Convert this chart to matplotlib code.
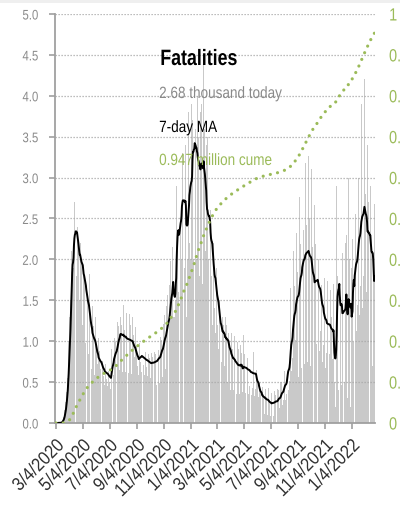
import numpy as np
import pandas as pd
import matplotlib
matplotlib.use("Agg")
import matplotlib.pyplot as plt
from matplotlib.patches import Rectangle
from matplotlib.patheffects import AbstractPathEffect
from matplotlib.transforms import Affine2D

plt.rcParams['font.family'] = ['Liberation Sans', 'DejaVu Sans']

# daily US fatalities (thousands), one row per week starting Wed 3/4/2020
daily_rows = [
    [0.0, 0.0, 0.0, 0.0, 0.0, 0.01, 0.0],
    [0.0, 0.0, 0.01, 0.0, 0.0, 0.01, 0.01],
    [0.03, 0.04, 0.06, 0.07, 0.08, 0.12, 0.16],
    [0.22, 0.26, 0.30, 0.38, 0.45, 0.55, 0.64],
    [0.9, 1.0, 1.15, 1.3, 1.4, 1.5, 1.85],
    [2.1, 2.3, 2.4, 2.0, 1.6, 1.9, 2.9],
    [2.7, 2.6, 2.5, 2.2, 1.6, 1.8, 2.9],
    [2.4, 2.3, 2.2, 1.8, 1.3, 1.5, 2.9],
    [2.2, 2.1, 2.0, 1.7, 1.2, 1.4, 2.5],
    [1.87, 1.96, 1.79, 1.47, 0.98, 1.22, 2.12],
    [1.61, 1.68, 1.54, 1.26, 0.84, 1.05, 1.82],
    [1.27, 1.32, 1.21, 0.99, 0.66, 0.83, 1.43],
    [1.14, 1.19, 1.09, 0.89, 0.59, 0.74, 1.29],
    [0.92, 0.96, 0.88, 0.72, 0.48, 0.6, 1.04],
    [0.84, 0.88, 0.8, 0.66, 0.44, 0.55, 0.95],
    [0.72, 0.76, 0.69, 0.57, 0.38, 0.47, 0.82],
    [0.69, 0.72, 0.66, 0.54, 0.36, 0.45, 0.78],
    [0.63, 0.66, 0.61, 0.5, 0.33, 0.41, 0.72],
    [0.9, 0.94, 0.86, 0.7, 0.47, 0.59, 1.01],
    [1.04, 1.08, 0.99, 0.81, 0.54, 0.68, 1.17],
    [1.24, 1.3, 1.19, 0.97, 0.65, 0.81, 1.4],
    [1.3, 1.25, 1.2, 0.95, 0.62, 0.8, 1.44],
    [1.2, 1.25, 1.14, 0.94, 0.62, 0.78, 1.35],
    [1.17, 1.22, 1.12, 0.92, 0.61, 0.77, 1.33],
    [1.15, 1.2, 1.1, 0.9, 0.6, 0.75, 1.3],
    [1.04, 1.08, 0.99, 0.81, 0.54, 0.68, 1.17],
    [0.9, 0.94, 0.86, 0.7, 0.47, 0.59, 1.01],
    [0.94, 0.98, 0.9, 0.74, 0.49, 0.62, 1.07],
    [0.91, 0.95, 0.87, 0.71, 0.47, 0.59, 1.03],
    [0.87, 0.91, 0.84, 0.68, 0.46, 0.57, 0.99],
    [0.84, 0.88, 0.8, 0.66, 0.44, 0.55, 0.95],
    [0.85, 0.89, 0.81, 0.67, 0.44, 0.56, 0.96],
    [0.87, 0.91, 0.84, 0.68, 0.46, 0.57, 0.99],
    [0.93, 0.97, 0.89, 0.73, 0.49, 0.61, 1.05],
    [1.07, 1.12, 1.02, 0.84, 0.56, 0.7, 1.21],
    [1.27, 1.32, 1.21, 0.99, 0.66, 0.83, 1.43],
    [1.5, 1.56, 1.43, 1.17, 0.78, 0.98, 1.69],
    [1.9, 1.98, 1.82, 1.49, 0.99, 1.24, 2.15],
    [2.4, 1.3, 1.5, 1.3, 0.9, 1.5, 3.0],
    [2.9, 2.9, 2.6, 2.1, 1.4, 1.6, 2.6],
    [3.0, 3.2, 2.9, 2.4, 1.6, 2.0, 3.45],
    [3.3, 3.4, 2.9, 2.4, 1.6, 1.9, 3.4],
    [3.4, 3.0, 1.3, 2.3, 1.6, 2.0, 3.9],
    [3.8, 3.7, 2.2, 2.6, 2.0, 2.2, 4.1],
    [3.9, 4.1, 3.7, 3.2, 2.0, 2.4, 4.15],
    [4.4, 4.0, 3.6, 3.0, 2.0, 2.1, 4.0],
    [4.0, 3.8, 3.5, 2.8, 1.8, 2.0, 3.8],
    [4.4, 3.9, 3.5, 2.6, 1.7, 1.9, 4.4],
    [3.9, 3.6, 3.2, 2.1, 1.3, 1.4, 3.4],
    [3.3, 3.5, 2.9, 2.0, 1.2, 1.4, 3.2],
    [3.0, 2.6, 2.4, 1.8, 1.1, 1.2, 2.6],
    [2.3, 2.2, 1.9, 1.4, 0.9, 1.1, 2.24],
    [1.9, 1.8, 1.6, 1.2, 0.7, 0.9, 1.84],
    [1.5, 1.4, 1.3, 0.9, 0.6, 0.75, 1.6],
    [1.3, 1.4, 1.2, 0.9, 0.5, 0.7, 1.35],
    [1.3, 1.3, 1.2, 0.8, 0.5, 0.65, 1.32],
    [1.1, 1.1, 1.0, 0.7, 0.4, 0.55, 1.1],
    [1.0, 1.0, 0.9, 0.6, 0.4, 0.5, 1.06],
    [0.95, 0.9, 0.85, 0.55, 0.35, 0.45, 0.99],
    [0.9, 0.9, 0.8, 0.55, 0.35, 0.45, 0.95],
    [1.0, 0.86, 0.79, 0.38, 0.24, 0.48, 1.07],
    [0.97, 0.84, 0.77, 0.37, 0.23, 0.47, 1.04],
    [0.93, 0.8, 0.74, 0.35, 0.22, 0.45, 0.99],
    [0.88, 0.76, 0.7, 0.34, 0.21, 0.43, 0.95],
    [0.87, 0.75, 0.69, 0.33, 0.21, 0.42, 0.93],
    [0.65, 0.56, 0.52, 0.25, 0.16, 0.32, 0.7],
    [0.49, 0.43, 0.39, 0.19, 0.12, 0.24, 0.53],
    [0.44, 0.38, 0.35, 0.17, 0.11, 0.21, 0.46],
    [0.41, 0.35, 0.32, 0.15, 0.1, 0.2, 0.43],
    [0.35, 0.3, 0.28, 0.13, 0.08, 0.17, 0.37],
    [0.36, 0.31, 0.29, 0.14, 0.09, 0.18, 0.39],
    [0.39, 0.34, 0.31, 0.15, 0.09, 0.19, 0.42],
    [0.46, 0.4, 0.37, 0.18, 0.11, 0.22, 0.5],
    [0.58, 0.5, 0.46, 0.22, 0.14, 0.28, 0.62],
    [0.73, 0.63, 0.58, 0.28, 0.18, 0.35, 0.78],
    [1.06, 0.91, 0.84, 0.4, 0.26, 0.51, 1.13],
    [1.65, 1.43, 1.31, 0.63, 0.4, 0.8, 1.77],
    [2.1, 1.81, 1.67, 0.8, 0.51, 1.02, 2.25],
    [2.32, 2.0, 1.84, 0.88, 0.56, 1.12, 2.48],
    [2.76, 2.38, 2.19, 1.05, 0.67, 1.33, 2.95],
    [2.97, 2.56, 2.36, 1.13, 0.72, 1.44, 3.18],
    [3.05, 2.63, 2.42, 1.16, 0.74, 1.47, 3.26],
    [2.9, 2.5, 2.3, 1.1, 0.7, 1.4, 3.1],
    [2.49, 2.15, 1.98, 0.95, 0.6, 1.2, 2.67],
    [2.54, 2.19, 2.01, 0.96, 0.61, 1.23, 2.71],
    [2.32, 2.0, 1.84, 0.88, 0.56, 1.12, 2.48],
    [1.96, 1.69, 1.55, 0.74, 0.47, 0.95, 2.09],
    [1.77, 1.53, 1.4, 0.67, 0.43, 0.85, 1.89],
    [1.74, 1.5, 1.38, 0.66, 0.42, 0.84, 1.86],
    [1.62, 1.4, 1.29, 0.62, 0.39, 0.78, 1.74],
    [1.7, 0.3, 0.5, 0.3, 0.2, 1.0, 2.3],
    [2.9, 2.3, 1.8, 0.7, 0.4, 1.1, 2.7],
    [1.95, 1.68, 1.54, 0.74, 0.47, 0.94, 2.08],
    [1.95, 1.75, 1.6, 0.8, 0.5, 1.0, 2.2],
    [2.6, 2.3, 0.6, 0.3, 0.3, 1.5, 3.0],
    [2.4, 2.0, 0.5, 0.2, 0.3, 1.8, 1.9],
    [2.61, 2.25, 2.07, 0.99, 0.63, 1.26, 2.79],
    [2.97, 2.56, 2.36, 1.13, 0.72, 1.44, 3.18],
    [3.48, 3.0, 2.76, 1.32, 0.84, 1.68, 3.72],
    [3.9, 3.2, 3.0, 1.4, 0.9, 1.8, 4.0],
    [4.2, 3.0, 2.8, 1.2, 0.8, 1.6, 3.6],
    [3.4, 3.0, 2.7, 1.2, 0.7, 1.5, 3.6],
    [2.9, 2.5, 2.3, 1.1, 0.7, 1.4, 3.1],
    [1.9, 1.65, 2.68],
]
start_date = '2020-03-04'

tick_labels = ['3/4/2020', '5/4/2020', '7/4/2020', '9/4/2020', '11/4/2020',
               '1/4/2021', '3/4/2021', '5/4/2021', '7/4/2021', '9/4/2021',
               '11/4/2021', '1/4/2022']
left_ticks = [0.0, 0.5, 1.0, 1.5, 2.0, 2.5, 3.0, 3.5, 4.0, 4.5, 5.0]
right_ticks = [0, 0.1, 0.2, 0.3, 0.4, 0.5, 0.6, 0.7, 0.8, 0.9, 1]
right_labels = ['0', '0.1', '0.2', '0.3', '0.4', '0.5', '0.6', '0.7', '0.8', '0.9', '1']

daily = pd.Series([v for row in daily_rows for v in row])
dates = pd.date_range(start_date, periods=len(daily), freq='D')
ma7 = daily.rolling(7, min_periods=1).mean()
cume = daily.cumsum() / 1000.0   # millions

GREEN = '#9bbb59'
GRAY_TXT = '#8a8a8a'


class Narrow(AbstractPathEffect):
    """squeeze text horizontally, like a condensed face"""
    def __init__(self, sx=0.82, anchor='left'):
        super().__init__()
        self.sx = sx
        self.anchor = anchor

    def draw_path(self, renderer, gc, tpath, affine, rgbFace=None):
        ext = tpath.get_extents()
        x0 = ext.x0 if self.anchor == 'left' else ext.x1
        sq = Affine2D().translate(-x0, 0).scale(self.sx, 1).translate(x0, 0)
        renderer.draw_path(gc, tpath, sq + affine, rgbFace)


fig = plt.figure(figsize=(4.0, 5.08), dpi=100)
fig.patches.append(Rectangle((0, 1 - 3 / 508), 1, 3 / 508, transform=fig.transFigure,
                             facecolor='#efefef', edgecolor='none'))

ax = fig.add_axes([55 / 400, 1 - 423 / 508, 320 / 400, 409 / 508])
ax.bar(dates, daily, width=0.9, color='#c9c9c9', linewidth=0)
ax.plot(dates, ma7, color='black', lw=1.4, zorder=3)

ax.set_ylim(0, 5)
ax.set_yticks(left_ticks)
ax.set_yticklabels([f'{t:.1f}' for t in left_ticks])
ax.set_xlim(pd.Timestamp(start_date) - pd.Timedelta(days=2),
            dates[-1] + pd.Timedelta(days=1))
ax.set_xticks(pd.to_datetime(tick_labels, format='%m/%d/%Y'))
ax.set_xticklabels(tick_labels, rotation=45, ha='right', rotation_mode='anchor')

ax.grid(axis='y', color='#a8a8a8', linestyle=(0, (1, 1.4)), lw=0.9)
ax.grid(axis='x', visible=False)
for s in ['top', 'right']:
    ax.spines[s].set_visible(False)
for s in ['left', 'bottom']:
    ax.spines[s].set_color('#a0a0a0')
    ax.spines[s].set_linewidth(1.3)
ax.tick_params(axis='y', colors='#a0a0a0', labelcolor=GRAY_TXT, labelsize=10,
               length=4, width=1.2, pad=8)
ax.tick_params(axis='x', colors='#a0a0a0', labelcolor='#333333', labelsize=13.5,
               length=4, width=1.2, pad=6)
ax.set_facecolor('none')
for lbl in ax.get_yticklabels():
    lbl.set_path_effects([Narrow(0.82, 'right')])
for lbl in ax.get_xticklabels():
    lbl.set_path_effects([Narrow(0.88, 'right')])

ax2 = ax.twinx()
ax2.plot(dates, cume, color=GREEN, lw=2.3, linestyle=(0, (0.01, 2.3)),
         dash_capstyle='round')
ax2.set_ylim(0, 1)
ax2.set_yticks(right_ticks)
ax2.set_yticklabels(right_labels)
ax2.tick_params(axis='y', length=0, labelcolor=GREEN, labelsize=12.75, pad=10)
for s in ax2.spines.values():
    s.set_visible(False)
for lbl in ax2.get_yticklabels():
    lbl.set_path_effects([Narrow(0.82, 'left')])


def px(x, y):
    return x / 400, 1 - y / 508


notes = [
    (160, 65, 'Fatalities', 16, 'bold', 'black', 0.8),
    (159, 98, '2.68 thousand today', 11.75, 'normal', GRAY_TXT, 0.83),
    (159, 132, '7-day MA', 11.75, 'normal', 'black', 0.83),
    (159, 165, '0.947 million cume', 11.75, 'normal', GREEN, 0.83),
]
for x, y, s, size, weight, color, sx in notes:
    t = fig.text(*px(x, y), s, fontsize=size, fontweight=weight, color=color)
    t.set_path_effects([Narrow(sx, 'left')])

fig.savefig('out.png', dpi=100)
